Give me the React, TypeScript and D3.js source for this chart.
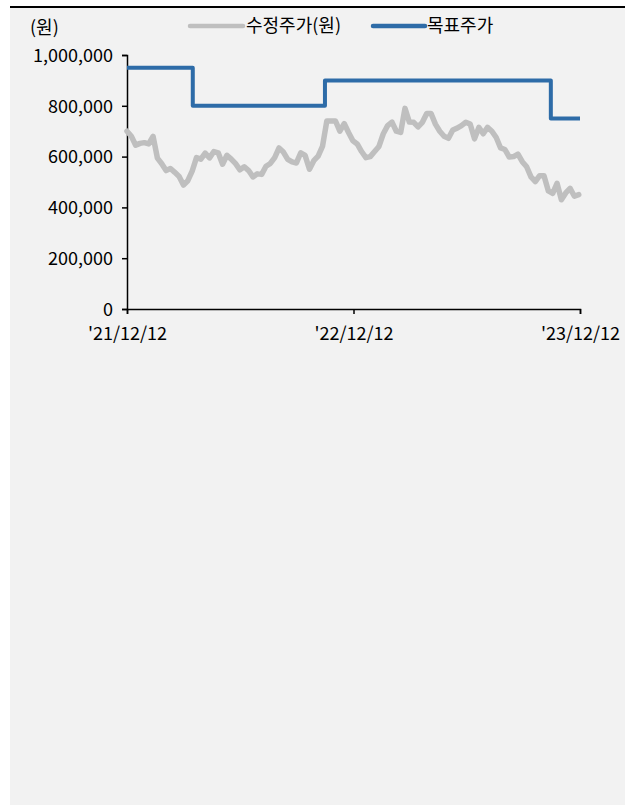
import React, { useEffect, useRef } from 'react';
import * as d3 from 'd3';

// 수정주가 (주간 샘플)
const priceDates = [
  '2021-12-12', '2021-12-19', '2021-12-26',
  '2022-01-02', '2022-01-09', '2022-01-16', '2022-01-23', '2022-01-30',
  '2022-02-06', '2022-02-13', '2022-02-20', '2022-02-27',
  '2022-03-06', '2022-03-13', '2022-03-20', '2022-03-27',
  '2022-04-03', '2022-04-10', '2022-04-17', '2022-04-24',
  '2022-05-01', '2022-05-08', '2022-05-15', '2022-05-22', '2022-05-29',
  '2022-06-05', '2022-06-12', '2022-06-19', '2022-06-26',
  '2022-07-03', '2022-07-10', '2022-07-17', '2022-07-24', '2022-07-31',
  '2022-08-07', '2022-08-14', '2022-08-21', '2022-08-28',
  '2022-09-04', '2022-09-11', '2022-09-18', '2022-09-25',
  '2022-10-02', '2022-10-09', '2022-10-16', '2022-10-23', '2022-10-30',
  '2022-11-06', '2022-11-13', '2022-11-20', '2022-11-27',
  '2022-12-04', '2022-12-11', '2022-12-18', '2022-12-25',
  '2023-01-01', '2023-01-08', '2023-01-15', '2023-01-22', '2023-01-29',
  '2023-02-05', '2023-02-12', '2023-02-19', '2023-02-26',
  '2023-03-05', '2023-03-12', '2023-03-19', '2023-03-26',
  '2023-04-02', '2023-04-09', '2023-04-16', '2023-04-23', '2023-04-30',
  '2023-05-07', '2023-05-14', '2023-05-21', '2023-05-28',
  '2023-06-04', '2023-06-11', '2023-06-18', '2023-06-25',
  '2023-07-02', '2023-07-09', '2023-07-16', '2023-07-23', '2023-07-30',
  '2023-08-06', '2023-08-13', '2023-08-20', '2023-08-27',
  '2023-09-03', '2023-09-10', '2023-09-17', '2023-09-24',
  '2023-10-01', '2023-10-08', '2023-10-15', '2023-10-22', '2023-10-29',
  '2023-11-05', '2023-11-12', '2023-11-19', '2023-11-26',
  '2023-12-03', '2023-12-10',
];

const priceValues = [
  700000, 680000, 645000, 652000, 655000, 650000, 680000, 594000,
  572000, 545000, 553000, 538000, 522000, 488000, 505000, 543000,
  596000, 590000, 614000, 595000, 620000, 615000, 570000, 605000, 590000,
  572000, 548000, 560000, 545000, 520000, 532000, 530000, 562000, 573000,
  596000, 634000, 618000, 589000, 579000, 575000, 615000, 605000,
  550000, 584000, 602000, 640000, 740000, 740000, 740000, 700000, 730000,
  695000, 662000, 650000, 620000, 596000, 600000, 620000, 640000, 690000,
  722000, 736000, 700000, 695000, 790000, 736000, 735000, 717000,
  735000, 770000, 770000, 728000, 700000, 680000, 672000, 705000, 712000,
  722000, 735000, 728000, 670000, 715000, 690000, 715000, 700000, 675000,
  634000, 628000, 598000, 600000, 610000, 580000, 560000, 520000,
  502000, 525000, 525000, 465000, 455000, 495000, 430000, 457000, 475000,
  444000, 450000,
];

// 목표주가 (변경일 기준)
const targetDates = ['2021-12-12', '2022-03-28', '2022-10-27', '2023-10-26', '2023-12-12'];
const targetValues = [950000, 800000, 900000, 750000, 750000];

const xTickDates = ['2021-12-12', '2022-12-12', '2023-12-12'];
const xTickLabels = ["'21/12/12", "'22/12/12", "'23/12/12"];
const yTicks = [0, 200000, 400000, 600000, 800000, 1000000];

const seriesNames = ['수정주가(원)', '목표주가'];
const FONT = '"Noto Sans CJK KR", "Noto Sans", sans-serif';

export default function App() {
  const svgRef = useRef<SVGSVGElement>(null);

  useEffect(() => {
    if (!svgRef.current) return;
    const svg = d3.select(svgRef.current);
    svg.selectAll('*').remove();

    const parse = d3.timeParse('%Y-%m-%d');
    const x = d3.scaleTime()
      .domain([parse('2021-12-12')!, parse('2023-12-12')!])
      .range([127, 580]);
    const y = d3.scaleLinear().domain([0, 1000000]).range([309, 55]);

    // 배경
    svg.append('rect').attr('x', 10).attr('y', 8).attr('width', 615).attr('height', 797).attr('fill', '#f2f2f2');
    svg.append('rect').attr('x', 10).attr('y', 6).attr('width', 615).attr('height', 2).attr('fill', '#000');

    // 축
    const yAxis = svg.append('g').attr('transform', 'translate(127,0)')
      .call(d3.axisLeft(y).tickValues(yTicks).tickSize(5).tickPadding(9).tickFormat((d: any) => d3.format(',')(d)));
    const xAxis = svg.append('g').attr('transform', 'translate(0,309)')
      .call(d3.axisBottom(x).tickValues(xTickDates.map(d => parse(d)!)).tickSize(5).tickPadding(13)
        .tickFormat((_d: any, i: number) => xTickLabels[i]));
    [yAxis, xAxis].forEach(a => {
      a.selectAll('path,line').attr('stroke', '#000').attr('stroke-width', 1.5);
      a.selectAll('text').attr('font-family', FONT).attr('font-size', 18).attr('fill', '#000');
    });
    yAxis.selectAll('text').attr('dy', '0.35em');

    // 수정주가
    const priceData = priceDates.map((d, i) => ({ date: parse(d)!, value: priceValues[i] }));
    svg.append('path')
      .datum(priceData)
      .attr('fill', 'none')
      .attr('stroke', '#bfbfbf')
      .attr('stroke-width', 5.5)
      .attr('stroke-linejoin', 'round')
      .attr('stroke-linecap', 'round')
      .attr('d', d3.line<any>().x(d => x(d.date)).y(d => y(d.value)));

    // 목표주가
    const targetData = targetDates.map((d, i) => ({ date: parse(d)!, value: targetValues[i] }));
    svg.append('path')
      .datum(targetData)
      .attr('fill', 'none')
      .attr('stroke', '#2e6ca8')
      .attr('stroke-width', 4)
      .attr('stroke-linejoin', 'round')
      .attr('d', d3.line<any>().x(d => x(d.date)).y(d => y(d.value)).curve(d3.curveStepAfter));

    // 단위
    svg.append('text').attr('x', 30).attr('y', 34).attr('font-family', FONT).attr('font-size', 18)
      .text('(원)');

    // 범례
    const legend = [
      { name: seriesNames[0], color: '#bfbfbf', x1: 190, x2: 243, tx: 246 },
      { name: seriesNames[1], color: '#2e6ca8', x1: 373, x2: 425, tx: 427 },
    ];
    legend.forEach(l => {
      svg.append('line').attr('x1', l.x1).attr('x2', l.x2).attr('y1', 26).attr('y2', 26)
        .attr('stroke', l.color).attr('stroke-width', 4.5).attr('stroke-linecap', 'round');
      svg.append('text').attr('x', l.tx).attr('y', 26).attr('dy', '0.35em')
        .attr('font-family', FONT).attr('font-size', 18).text(l.name);
    });
  }, []);

  return (
    <svg ref={svgRef} width={635} height={805}
      style={{ position: 'absolute', left: 0, top: 0, display: 'block' }} />
  );
}
